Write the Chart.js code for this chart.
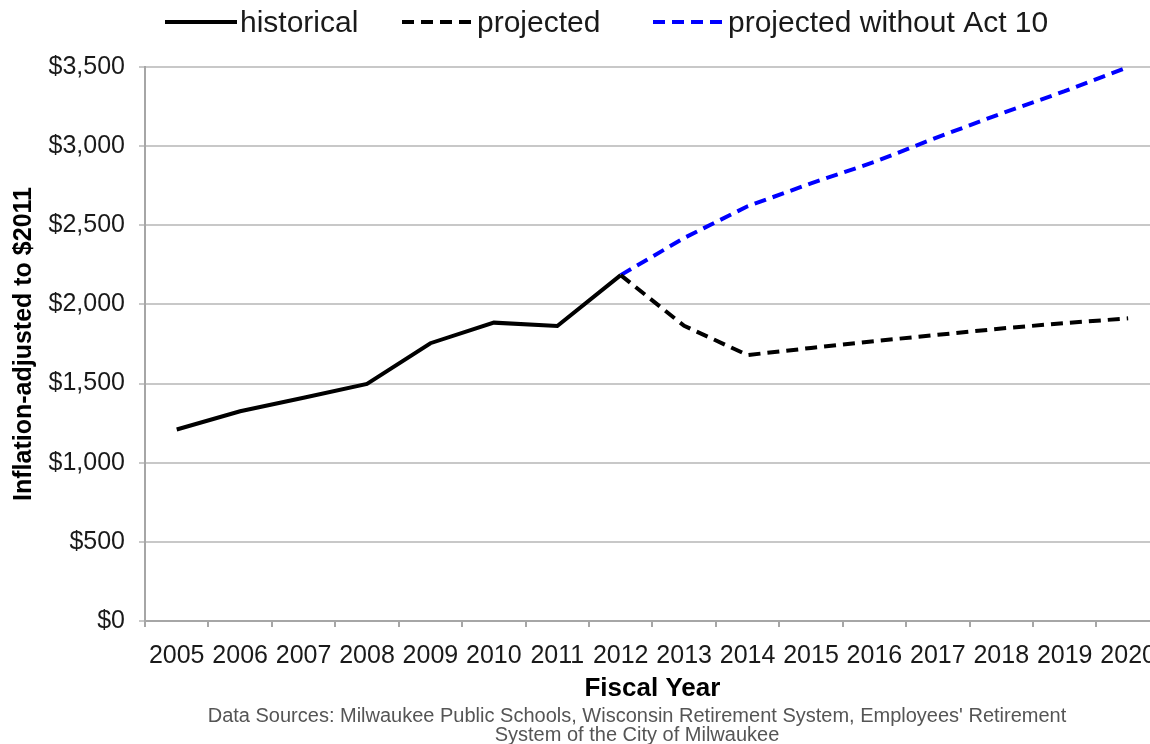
<!DOCTYPE html>
<html>
<head>
<meta charset="utf-8">
<script src="https://cdn.jsdelivr.net/npm/chart.js@4/dist/chart.umd.min.js"></script>
<style>
  html, body { margin: 0; padding: 0; background: #fff; }
  #wrap { width: 1150px; height: 744px; overflow: hidden; position: relative; }
  canvas { display: block; }
</style>
</head>
<body>
<div id="wrap"><canvas id="lineChart" width="1170" height="750"></canvas></div>
<script>
const years = ['2005', '2006', '2007', '2008', '2009', '2010', '2011', '2012',
               '2013', '2014', '2015', '2016', '2017', '2018', '2019', '2020'];
const historical = [1210, 1325, 1410, 1498, 1755, 1885, 1864, 2185,
                    null, null, null, null, null, null, null, null];
const projected = [null, null, null, null, null, null, null, 2185,
                   1865, 1680, 1725, 1768, 1808, 1848, 1882, 1912];
const withoutAct10 = [null, null, null, null, null, null, null, 2185,
                      2420, 2620, 2765, 2900, 3057, 3206, 3347, 3500];
const seriesNames = ['historical', 'projected', 'projected without Act 10'];
const sourceLines = [
    "Data Sources: Milwaukee Public Schools, Wisconsin Retirement System, Employees' Retirement",
    'System of the City of Milwaukee'
];

const FONT = "'Liberation Sans', Arial, sans-serif";

// legend and source note drawn by hand to sit where the original has them
const legendStarts = [165, 402, 653];
const extras = {
    id: 'extras',
    afterDraw(chart) {
        const ctx = chart.ctx;
        const sample = 72, gap = 3;
        ctx.save();
        ctx.font = '30px ' + FONT;
        ctx.textBaseline = 'middle';
        chart.data.datasets.forEach((ds, i) => {
            const x = legendStarts[i];
            ctx.strokeStyle = ds.borderColor;
            ctx.lineWidth = 4;
            ctx.setLineDash(ds.borderDash || []);
            ctx.beginPath();
            ctx.moveTo(x, 22);
            ctx.lineTo(x + sample, 22);
            ctx.stroke();
            ctx.setLineDash([]);
            ctx.fillStyle = '#1a1a1a';
            ctx.textAlign = 'left';
            ctx.fillText(ds.label, x + sample + gap, 24);
        });

        ctx.font = '20px ' + FONT;
        ctx.fillStyle = '#555555';
        ctx.textAlign = 'center';
        sourceLines.forEach((line, i) => {
            ctx.fillText(line, 637, 716 + i * 19);
        });
        ctx.restore();
    }
};

const ctx = document.getElementById('lineChart').getContext('2d');
new Chart(ctx, {
    type: 'line',
    data: {
        labels: years,
        datasets: [
            {
                label: seriesNames[0],
                data: historical,
                borderColor: '#000000',
                borderWidth: 4,
                pointRadius: 0,
                tension: 0
            },
            {
                label: seriesNames[1],
                data: projected,
                borderColor: '#000000',
                borderWidth: 4,
                borderDash: [12, 7],
                pointRadius: 0,
                tension: 0
            },
            {
                label: seriesNames[2],
                data: withoutAct10,
                borderColor: '#0000ff',
                borderWidth: 4,
                borderDash: [12, 7],
                pointRadius: 0,
                tension: 0
            }
        ]
    },
    options: {
        responsive: false,
        animation: false,
        layout: { padding: { top: 67, left: 9, right: 2, bottom: 44 } },
        plugins: {
            legend: { display: false },
            tooltip: { enabled: false }
        },
        scales: {
            x: {
                offset: true,
                afterFit: scale => { scale.height = 85; },
                grid: {
                    offset: true,
                    drawOnChartArea: false,
                    color: '#a6a6a6',
                    lineWidth: 2,
                    tickLength: 6
                },
                border: { color: '#a6a6a6', width: 2 },
                ticks: {
                    color: '#1a1a1a',
                    font: { family: FONT, size: 25 },
                    padding: 14,
                    autoSkip: false,
                    maxRotation: 0
                },
                title: {
                    display: true,
                    text: 'Fiscal Year',
                    color: '#000000',
                    font: { family: FONT, size: 26, weight: 'bold' },
                    padding: { top: 0, bottom: 2 }
                }
            },
            y: {
                min: 0,
                max: 3500,
                afterFit: scale => { scale.width = 136; },
                grid: {
                    color: '#c8c8c8',
                    lineWidth: 2,
                    tickLength: 6
                },
                border: { color: '#a6a6a6', width: 2 },
                ticks: {
                    stepSize: 500,
                    color: '#1a1a1a',
                    font: { family: FONT, size: 25 },
                    padding: 14,
                    callback: v => '$' + v.toLocaleString('en-US')
                },
                title: {
                    display: true,
                    text: 'Inflation-adjusted to $2011',
                    color: '#000000',
                    font: { family: FONT, size: 25, weight: 'bold' },
                    padding: { top: 0, bottom: 4 }
                }
            }
        }
    },
    plugins: [extras]
});
</script>
</body>
</html>
